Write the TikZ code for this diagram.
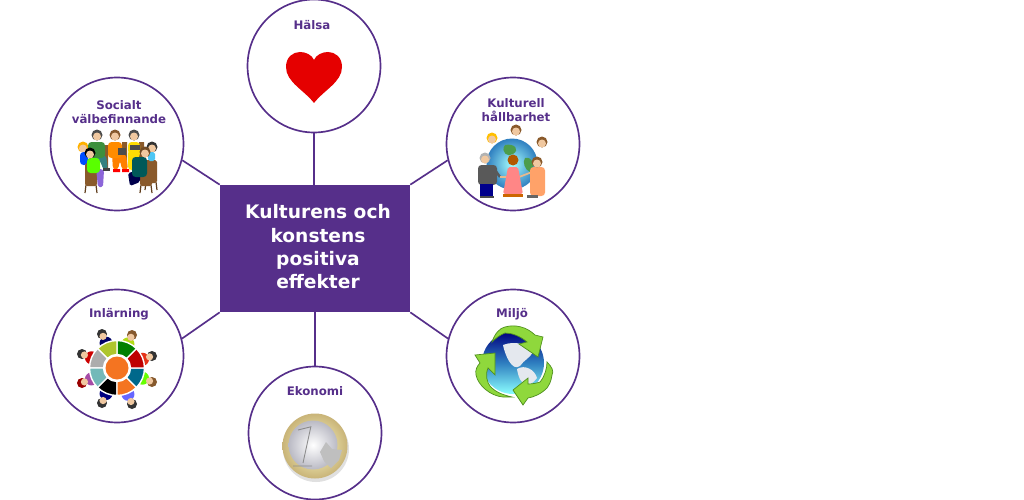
\documentclass[tikz,border=0pt]{standalone}
\usepackage{fontspec}
\setmainfont{DejaVu Sans}
\usetikzlibrary{calc}
\definecolor{kpurple}{HTML}{562F8A}
\definecolor{kskin}{HTML}{F0C8A0}
\definecolor{kbrown}{HTML}{8A5A2B}
\definecolor{kgreen}{HTML}{8FD83C}
\definecolor{kgreend}{HTML}{4F8F1E}
\definecolor{kocean}{HTML}{2F7FC0}
\definecolor{korange}{HTML}{F47421}
\definecolor{kteal}{HTML}{00688B}
\definecolor{kgold}{HTML}{C9B478}
\definecolor{kcloud}{HTML}{E4E8EE}
\tikzstyle{topic}=[circle,draw=kpurple,line width=0.95pt,fill=white,minimum size=2.66cm,inner sep=0pt]
\tikzstyle{topiclabel}=[text=kpurple,font=\bfseries\fontsize{6.7}{8}\selectfont,align=center,inner sep=0pt]
\tikzstyle{mainbox}=[rectangle,fill=kpurple,minimum width=3.8cm,minimum height=2.54cm,inner sep=0pt]
\tikzstyle{maintext}=[text=white,font=\bfseries\fontsize{10.6}{13.3}\selectfont,align=center,inner sep=0pt]
\tikzstyle{link}=[draw=kpurple,line width=0.95pt]
\tikzstyle{recycle}=[fill=kgreen,draw=kgreend,line width=0.4pt]
\newcommand{\ringseg}[2]{\fill[#1,draw=white,line width=0.8pt] ([shift={(#2:13.5)}]117,368) arc (#2:#2+45:13.5) -- ([shift={(#2+45:27.5)}]117,368) arc (#2+45:#2:27.5) -- cycle;}
\newcommand{\kid}[4]{\fill[#4] ($(#1,#2)!0.27!(117,368)$) circle (6.5);
  \fill[#3] (#1,#2) circle (5);
  \fill[kskin] ($(#1,#2)!0.07!(117,368)$) circle (3.6);}
\newcommand{\headat}[3]{\fill[#3] (#1,#2) circle (5.5);
  \fill[kskin] (#1,#2+1.5) circle (4);}
\newcommand{\chairat}[2]{\draw[kbrown!70!black,line width=0.7pt] (#1-5,#2+10) -- (#1-6,#2+18) (#1+5,#2+10) -- (#1+6,#2+18);
  \fill[kbrown,rounded corners=1pt] (#1-6,#2-12) rectangle (#1+6,#2+11);}
\begin{document}
\begin{tikzpicture}[x=0.02cm,y=-0.02cm]
  \useasboundingbox (0,0) rectangle (1024,500);
  \node[mainbox] (kultur) at (315,248.5) {};
  \node[maintext] (kulturtext) at (318,247) {Kulturens och\\konstens\\positiva\\effekter};
  \node[topic] (halsa) at (314,66) {};
  \node[topic] (socialt) at (117,144) {};
  \node[topic] (hallbar) at (513,144) {};
  \node[topic] (inlarning) at (117,356) {};
  \node[topic] (miljo) at (513,356) {};
  \node[topic] (ekonomi) at (315,433) {};
  \draw[link] (halsa.south) -- (kultur.north -| halsa.south);
  \draw[link] (ekonomi.north) -- (kultur.south -| ekonomi.north);
  \draw[link] (socialt.346) -- (kultur.north west);
  \draw[link] (hallbar.194) -- (kultur.north east);
  \draw[link] (inlarning.15) -- (kultur.south west);
  \draw[link] (miljo.165) -- (kultur.south east);
  \node[topiclabel] (halsatext) at (312,25) {Hälsa};
  \node[topiclabel] (socialttext) at (119,112) {Socialt\\välbefinnande};
  \node[topiclabel] (hallbartext) at (516,110) {Kulturell\\hållbarhet};
  \node[topiclabel] (inlarningtext) at (119,314) {Inlärning};
  \node[topiclabel] (miljotext) at (512,314) {Miljö};
  \node[topiclabel] (ekonomitext) at (315,391) {Ekonomi};

  \fill[red!90!black] (314,103) .. controls (304,90) and (286,82) .. (286,67) .. controls (286,57) and (293,52) .. (300,52) .. controls (306,52) and (312,55) .. (314,60) .. controls (316,55) and (322,52) .. (328,52) .. controls (335,52) and (342,57) .. (342,67) .. controls (342,82) and (324,90) .. (314,103) -- cycle;

  \fill[black!12] (316,449) circle (33);
  \shade[outer color=kgold,inner color=yellow!20!white] (315,446) circle (32.5);
  \shade[inner color=white,outer color=blue!8!gray!50] (313,445) circle (24.5);
  \draw[black!45,line width=0.5pt] (293,466) -- (312,466) (311,426) -- (303,463) (298,430) -- (310,427);
  \fill[black!25] (320,452) -- (326,442) -- (332,449) -- (342,450) -- (339,460) -- (331,468) -- (324,461) -- cycle;

  \fill[kbrown] (103,145) rectangle (108,170) (122,142) rectangle (127,168) (139,142) rectangle (144,168);
  \headat{83}{147}{orange!60!yellow}
  \fill[blue!70!cyan,rounded corners=2pt] (80,152) rectangle (88,165);
  \chairat{151}{172}
  \headat{152}{147}{black!80}
  \fill[cyan!70,rounded corners=1pt] (148,152) rectangle (155,161);
  \fill[teal!60!gray,rounded corners=2pt] (93,155) -- (106,155) -- (108,170) -- (103,170) -- (101,162) -- cycle;
  \fill[black!75] (103,168) rectangle (110,171);
  \fill[gray!60!green!80!black,rounded corners=2pt] (88,142) rectangle (105,158);
  \headat{97}{135}{black!70}
  \fill[orange,rounded corners=2pt] (112,154) -- (126,154) -- (128,170) -- (122,170) -- (120,160) -- (118,170) -- (113,170) -- cycle;
  \fill[orange!90!yellow,rounded corners=2pt] (108,142) rectangle (122,158);
  \fill[red] (113,169) rectangle (120,172) (122,169) rectangle (129,172);
  \headat{115}{135}{brown!70!black}
  \fill[black!70] (118,148) rectangle (126,155);
  \fill[yellow!80!orange,rounded corners=2pt] (128,150) -- (141,150) -- (135,170) -- (128,170) -- cycle;
  \fill[yellow!80!orange,rounded corners=2pt] (128,142) rectangle (140,154);
  \fill[black!70] (130,145) rectangle (140,150);
  \headat{134}{135}{black!70}
  \chairat{91}{175}
  \fill[violet!50!blue!60,rounded corners=1pt] (96,168) -- (104,170) -- (103,187) -- (98,187) -- cycle;
  \fill[green!65!yellow,rounded corners=2pt] (87,158) rectangle (100,173);
  \headat{90}{153}{black}
  \chairat{146}{175}
  \fill[blue!30!black,rounded corners=1pt] (128,173) -- (140,170) -- (140,182) -- (130,186) -- cycle;
  \fill[teal!70!black,rounded corners=2pt] (132,157) rectangle (147,177);
  \headat{145}{152}{brown!60!black}

  \shade[inner color=cyan!35,outer color=kocean] (512,164) circle (25.5);
  \fill[green!45!black!70] (505,145) .. controls (515,143) and (520,150) .. (513,154) .. controls (508,158) and (500,152) .. (505,145) -- cycle;
  \fill[green!45!black!70] (525,158) .. controls (532,156) and (536,166) .. (530,172) .. controls (525,170) and (522,162) .. (525,158) -- cycle;
  \headat{516}{130}{kbrown}
  \headat{492}{138}{orange!50!yellow}
  \headat{542}{142}{kbrown}
  \draw[gray!70!black,line width=1.4pt] (495,170) -- (500,177);
  \draw[kskin!80!brown,line width=1pt] (500,177) -- (508,177) (519,177) -- (532,172);
  \fill[gray!70!black,rounded corners=2pt] (478,165) rectangle (497,185);
  \fill[blue!55!black] (480,184) rectangle (493,196);
  \fill[black!70] (480,196) rectangle (494,198);
  \headat{485}{158}{gray!60}
  \fill[pink!70!red,rounded corners=1pt] (508,167) -- (518,167) -- (523,194) -- (503,194) -- cycle;
  \fill[orange!80!black] (503,194) rectangle (523,197);
  \fill[orange!70!black] (513,160) circle (5.5);
  \fill[orange!45!pink,rounded corners=2pt] (530,167) rectangle (545,196);
  \fill[black!60] (527,195) rectangle (538,198);
  \headat{537}{162}{kbrown}

  \kid{102}{334}{black!80}{blue!40!black}
  \kid{132}{335}{brown!70!black}{yellow!70!green}
  \kid{152}{356}{black!80}{red!60!brown}
  \kid{152}{382}{brown!70!black}{green!60!yellow}
  \kid{132}{404}{black!80}{blue!60}
  \kid{102}{403}{black!80}{blue!50!black}
  \kid{82}{383}{red!60!black}{violet!70}
  \kid{82}{354}{black!80}{red!80!black}
  \ringseg{black}{90}
  \ringseg{korange}{45}
  \ringseg{kteal}{0}
  \ringseg{red!75!black}{315}
  \ringseg{green!50!black}{270}
  \ringseg{yellow!75!green!85!black}{225}
  \ringseg{gray!65}{180}
  \ringseg{teal!55!white}{135}
  \fill[korange] (117,368) circle (11.5);

  \shade[top color=blue!50!black,bottom color=cyan!45,middle color=kocean] (513,363) circle (31);
  \fill[kcloud] (503,345) .. controls (515,340) and (530,345) .. (533,352) .. controls (530,358) and (524,360) .. (520,366) .. controls (512,372) and (505,355) .. (503,345) -- cycle;
  \fill[kcloud] (517,369) .. controls (525,364) and (535,370) .. (537,378) .. controls (530,388) and (520,388) .. (517,369) -- cycle;
  \filldraw[recycle] (492,342) .. controls (495,333) and (500,328) .. (505,327) .. controls (515,324) and (527,327) .. (535,335) -- (543,337) -- (538,357) -- (519,344) -- (527,342) .. controls (520,336) and (512,333) .. (505,333) .. controls (500,335) and (496,338) .. (492,342) -- cycle;
  \filldraw[recycle] (512,397) -- (503,397) .. controls (490,396) and (478,385) .. (476,375) .. controls (475,370) and (477,366) .. (480,363) -- (475,355) -- (495,353) -- (495,375) -- (488,368) .. controls (485,375) and (487,382) .. (490,386) .. controls (495,392) and (503,395) .. (512,397) -- cycle;
  \filldraw[recycle] (547,362) .. controls (552,367) and (554,371) .. (552,375) .. controls (551,382) and (549,385) .. (547,388) .. controls (541,394) and (534,397) .. (528,398) -- (523,405) -- (513,390) -- (528,378) -- (528,384) .. controls (533,384) and (537,383) .. (540,382) .. controls (545,376) and (547,368) .. (547,362) -- cycle;
\end{tikzpicture}
\end{document}
